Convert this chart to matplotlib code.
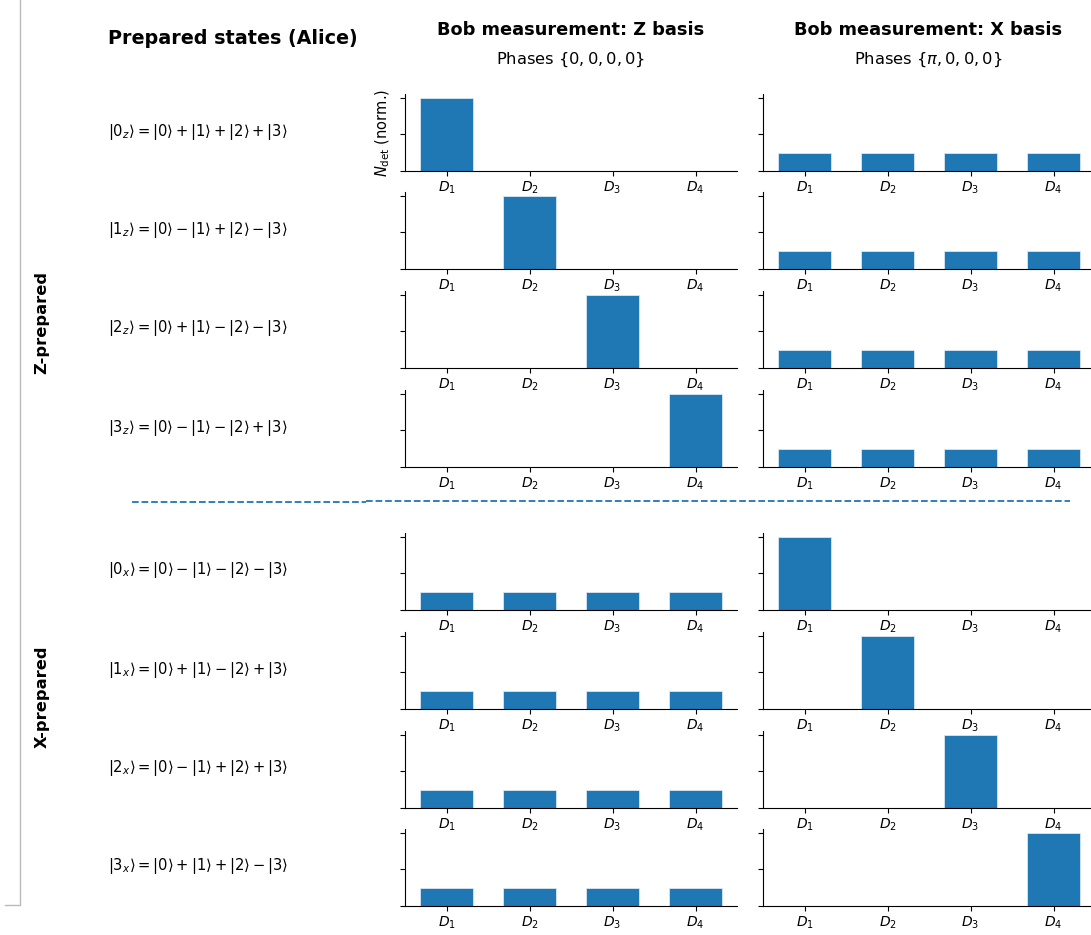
import numpy as np
import matplotlib
matplotlib.use("Agg")
import matplotlib.pyplot as plt
from matplotlib.lines import Line2D

# 探測器標籤與各態的歸一化計數
detectors = ["$D_1$", "$D_2$", "$D_3$", "$D_4$"]

z_states = [r"$|0_z\rangle = |0\rangle + |1\rangle + |2\rangle + |3\rangle$",
            r"$|1_z\rangle = |0\rangle - |1\rangle + |2\rangle - |3\rangle$",
            r"$|2_z\rangle = |0\rangle + |1\rangle - |2\rangle - |3\rangle$",
            r"$|3_z\rangle = |0\rangle - |1\rangle - |2\rangle + |3\rangle$"]
x_states = [r"$|0_x\rangle = |0\rangle - |1\rangle - |2\rangle - |3\rangle$",
            r"$|1_x\rangle = |0\rangle + |1\rangle - |2\rangle + |3\rangle$",
            r"$|2_x\rangle = |0\rangle - |1\rangle + |2\rangle + |3\rangle$",
            r"$|3_x\rangle = |0\rangle + |1\rangle + |2\rangle - |3\rangle$"]

# Z 態 -> Z 基底 / X 基底
zprep_zbasis = [[1, 0, 0, 0], [0, 1, 0, 0], [0, 0, 1, 0], [0, 0, 0, 1]]
zprep_xbasis = [[0.25, 0.25, 0.25, 0.25]] * 4
# X 態 -> Z 基底 / X 基底
xprep_zbasis = [[0.25, 0.25, 0.25, 0.25]] * 4
xprep_xbasis = [[1, 0, 0, 0], [0, 1, 0, 0], [0, 0, 1, 0], [0, 0, 0, 1]]

W, H = 1091, 935
fig = plt.figure(figsize=(W / 100, H / 100), dpi=100)

def fx(px):
    return px / W

def fy(py):
    return 1 - py / H

bar_color = "#1f77b4"
row_bottoms = [171, 269, 368, 467, 610, 709, 808, 906]
ax_h = 77
col_left = [405, 763]
col_right = [737, 1095]

labels = z_states + x_states
left_data = zprep_zbasis + xprep_zbasis
right_data = zprep_xbasis + xprep_xbasis

for r, yb in enumerate(row_bottoms):
    for c, data in enumerate([left_data, right_data]):
        ax = fig.add_axes([fx(col_left[c]), fy(yb), fx(col_right[c] - col_left[c]), ax_h / H])
        ax.patch.set_alpha(0)
        ax.bar(np.arange(4), data[r], width=0.63, color=bar_color,
               edgecolor="#e8f0f8", linewidth=0.5)
        ax.set_xlim(-0.5, 3.5)
        ax.set_ylim(0, 1.05)
        ax.set_xticks(np.arange(4))
        ax.set_xticklabels(detectors, fontsize=10)
        ax.tick_params(axis="x", pad=2.5)
        ax.set_yticks([0, 0.5, 1])
        ax.set_yticklabels([])
        ax.spines["top"].set_visible(False)
        ax.spines["right"].set_visible(False)
        if r == 0 and c == 0:
            ax.set_ylabel(r"$N_{\rm det}$ (norm.)", fontsize=10.5, labelpad=2)
    fig.text(fx(108), fy(yb - ax_h / 2 - 1), labels[r], fontsize=10.6,
             ha="left", va="center")

# 標題
fig.text(fx(108), fy(38), "Prepared states (Alice)", fontsize=13.8,
         fontweight="bold", ha="left", va="center")
fig.text(fx(571), fy(30), "Bob measurement: Z basis", fontsize=12.8,
         fontweight="bold", ha="center", va="center")
fig.text(fx(928), fy(30), "Bob measurement: X basis", fontsize=12.8,
         fontweight="bold", ha="center", va="center")
fig.text(fx(571), fy(60), r"Phases $\{0, 0, 0, 0\}$", fontsize=11.7,
         ha="center", va="center")
fig.text(fx(928), fy(60), r"Phases $\{\pi, 0, 0, 0\}$", fontsize=11.7,
         ha="center", va="center")

fig.text(fx(42), fy(322), "Z-prepared", fontsize=11.7, fontweight="bold",
         rotation=90, ha="center", va="center")
fig.text(fx(42), fy(697), "X-prepared", fontsize=11.7, fontweight="bold",
         rotation=90, ha="center", va="center")

# 分隔虛線（左段 + 右段）
fig.add_artist(Line2D([fx(132), fx(366)], [fy(501.5), fy(501.5)], color=bar_color,
                      linestyle="--", linewidth=1.3))
fig.add_artist(Line2D([fx(366), fx(1070)], [fy(500.5), fy(500.5)], color=bar_color,
                      linestyle="--", linewidth=1.3))
# 左側灰色框線
fig.add_artist(Line2D([fx(5), fx(20), fx(20)], [fy(905), fy(905), fy(0)],
                      color="#bbbbbb", linewidth=1))

fig.savefig("out.png", dpi=100)
